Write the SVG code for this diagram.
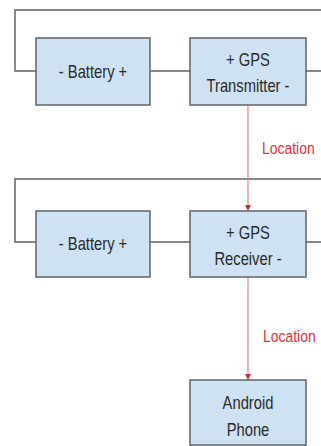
<svg xmlns="http://www.w3.org/2000/svg" width="321" height="446" viewBox="0 0 321 446">
<style>
.box{fill:#cfe2f3;stroke:#5f6368;stroke-width:1.5}
.t{font-family:"Liberation Sans",Arial,sans-serif;font-size:18px;fill:#2a2a2a;text-anchor:middle}
.wire{fill:none;stroke:#5f6368;stroke-width:1.5}
.sig{fill:none;stroke:#e8808a;stroke-width:1.2}
.lbl{font-family:"Liberation Sans",Arial,sans-serif;font-size:17px;fill:#e0303a}
</style>
<defs>
<marker id="ah" markerWidth="6" markerHeight="6" refX="5" refY="3" orient="auto" markerUnits="userSpaceOnUse">
<path d="M0,0 L6,3 L0,6 z" fill="#c0303a"/>
</marker>
</defs>
<rect width="321" height="446" fill="#fff"/>
<g id="connectors">
<path class="wire" d="M321,10 H15 V71 H36"/>
<path class="wire" d="M150,71 H190"/>
<path class="wire" d="M306,71 H321"/>
<path class="wire" d="M321,179 H15 V242 H36"/>
<path class="wire" d="M150,242 H190"/>
<path class="wire" d="M306,242 H321"/>
<path class="sig" d="M248,105 V210" marker-end="url(#ah)"/>
<path class="sig" d="M248,277 V379" marker-end="url(#ah)"/>
<text class="lbl" transform="translate(262,154) scale(0.82,1)">Location</text>
<text class="lbl" transform="translate(263,342) scale(0.82,1)">Location</text>
</g>
<g id="battery1">
<rect class="box" x="36" y="38" width="114" height="67"/>
<text class="t" transform="translate(93,78) scale(0.82,1)">- Battery +</text>
</g>
<g id="transmitter">
<rect class="box" x="190" y="38" width="116" height="67"/>
<text class="t" transform="translate(248,66) scale(0.82,1)">+ GPS</text>
<text class="t" transform="translate(248,92) scale(0.82,1)">Transmitter -</text>
</g>
<g id="battery2">
<rect class="box" x="36" y="211" width="114" height="66"/>
<text class="t" transform="translate(93,250) scale(0.82,1)">- Battery +</text>
</g>
<g id="receiver">
<rect class="box" x="190" y="211" width="116" height="66"/>
<text class="t" transform="translate(248,239) scale(0.82,1)">+ GPS</text>
<text class="t" transform="translate(248,265) scale(0.82,1)">Receiver -</text>
</g>
<g id="android">
<rect class="box" x="190" y="380" width="116" height="65"/>
<text class="t" transform="translate(248,409) scale(0.82,1)">Android</text>
<text class="t" transform="translate(248,436) scale(0.82,1)">Phone</text>
</g>
</svg>
